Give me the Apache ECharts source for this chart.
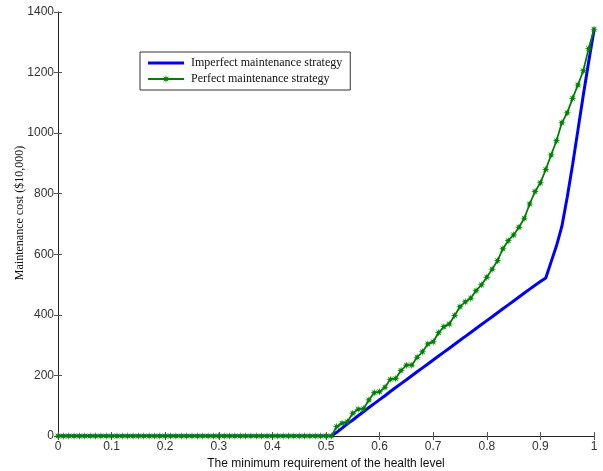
<!DOCTYPE html>
<html>
<head>
<meta charset="utf-8">
<script src="https://cdn.jsdelivr.net/npm/echarts@6/dist/echarts.min.js"></script>
<style>
html, body { margin: 0; padding: 0; background: #fff; }
#chart { width: 603px; height: 471px; }
</style>
</head>
<body>
<div id="chart"></div>
<script>
// health level grid 0, 0.01, ... 1
var healthLevel = [];
for (var i = 0; i <= 100; i++) {
    healthLevel.push(i / 100);
}

// 0 .. 0.51 both strategies cost nothing
var zeroPart = [0,0,0,0,0,0,0,0,0,0, 0,0,0,0,0,0,0,0,0,0,
    0,0,0,0,0,0,0,0,0,0, 0,0,0,0,0,0,0,0,0,0,
    0,0,0,0,0,0,0,0,0,0, 0,0];

// 0.52 .. 1.00
var imperfectRise = [12,26,40,53,67,80,94,107,120,133,
    147,160,173,186,199,212,225,238,251,264,
    277,290,303,316,329,342,355,368,381,394,
    407,420,433,446,459,472,485,498,510,522,
    575,628,692,788,895,1010,1125,1235,1340];

var perfectRise = [31,42,47,75,88,90,119,143,146,161,
    187,190,216,234,234,260,278,304,311,341,
    361,370,398,427,443,455,480,499,524,551,
    579,618,645,664,689,719,766,807,836,880,
    928,975,1034,1067,1115,1159,1206,1279,1343];

var seriesNames = ['Imperfect maintenance strategy', 'Perfect maintenance strategy'];
var xTicks = ['0','0.1','0.2','0.3','0.4','0.5','0.6','0.7','0.8','0.9','1'];

var imperfectCost = zeroPart.concat(imperfectRise);
var perfectCost = zeroPart.concat(perfectRise);

function pairs(ys) {
    var out = [];
    for (var i = 0; i < ys.length; i++) {
        out.push([healthLevel[i], ys[i]]);
    }
    return out;
}

var star = 'path://M20 10 L13.7 11.53 L17.07 17.07 L11.53 13.7 L10 20 L8.47 13.7 L2.93 17.07 L6.3 11.53 L0 10 L6.3 8.47 L2.93 2.93 L8.47 6.3 L10 0 L11.53 6.3 L17.07 2.93 L13.7 8.47 Z';
var bar = 'path://M0 4 L36 4 L36 7 L0 7 Z';

var chart = echarts.init(document.getElementById('chart'));

var axisLine = { show: true, lineStyle: { color: '#222', width: 1 } };
var tick = { show: true, inside: true, length: 4, lineStyle: { color: '#555' } };

var option = {
    animation: false,
    backgroundColor: '#fff',
    grid: {
        left: 58,
        right: 9,
        top: 12,
        bottom: 35,
        containLabel: false,
        outerBoundsMode: 'none'
    },
    legend: {
        orient: 'vertical',
        left: 140,
        top: 52,
        itemWidth: 36,
        itemHeight: 10,
        itemGap: 4,
        padding: [5, 8, 5, 7],
        borderColor: '#333',
        borderWidth: 1,
        backgroundColor: '#fff',
        textStyle: {
            fontFamily: 'Liberation Serif',
            fontSize: 12,
            color: '#111',
            padding: [0, 0, 0, 2]
        },
        data: [{ name: seriesNames[0], icon: bar }, { name: seriesNames[1] }]
    },
    xAxis: [{
        type: 'value',
        min: 0,
        max: 1,
        interval: 0.1,
        name: 'The minimum requirement of the health level',
        nameLocation: 'middle',
        nameGap: 22,
        nameMoveOverlap: false,
        nameTextStyle: { fontFamily: 'Liberation Sans', fontSize: 12, color: '#111' },
        axisLine: axisLine,
        axisTick: tick,
        splitLine: { show: false },
        axisLabel: {
            margin: 5,
            fontFamily: 'Liberation Sans',
            fontSize: 12,
            color: '#333',
            formatter: function (v) {
                return xTicks[Math.round(v * 10)];
            }
        }
    }, {
        type: 'value',
        position: 'top',
        min: 0,
        max: 1,
        interval: 0.1,
        axisLine: axisLine,
        axisTick: tick,
        axisLabel: { show: false },
        splitLine: { show: false }
    }],
    yAxis: [{
        type: 'value',
        min: 0,
        max: 1400,
        interval: 200,
        name: 'Maintenance cost ($10,000)',
        nameLocation: 'middle',
        nameGap: 32,
        nameMoveOverlap: false,
        nameTextStyle: {
            fontFamily: 'Liberation Serif',
            fontSize: 12,
            color: '#111',
            padding: [0, 0, 0, 22]
        },
        axisLine: { show: true, lineStyle: { color: '#777', width: 1 } },
        axisTick: tick,
        splitLine: { show: false },
        axisLabel: {
            margin: 4,
            fontFamily: 'Liberation Sans',
            fontSize: 12,
            color: '#333',
            formatter: function (v) {
                return String(v);
            }
        }
    }, {
        type: 'value',
        position: 'right',
        min: 0,
        max: 1400,
        interval: 200,
        axisLine: axisLine,
        axisTick: tick,
        axisLabel: { show: false },
        splitLine: { show: false }
    }],
    series: [{
        name: seriesNames[0],
        type: 'line',
        showSymbol: false,
        symbol: 'none',
        color: '#0000ff',
        itemStyle: { color: '#0000ff' },
        lineStyle: { color: '#0000ff', width: 3 },
        z: 2,
        data: pairs(imperfectCost)
    }, {
        name: seriesNames[1],
        type: 'line',
        symbol: star,
        symbolSize: 8,
        color: '#008000',
        itemStyle: { color: '#008000' },
        lineStyle: { color: '#008000', width: 1.8 },
        z: 3,
        data: pairs(perfectCost)
    }]
};

chart.setOption(option);
</script>
</body>
</html>
